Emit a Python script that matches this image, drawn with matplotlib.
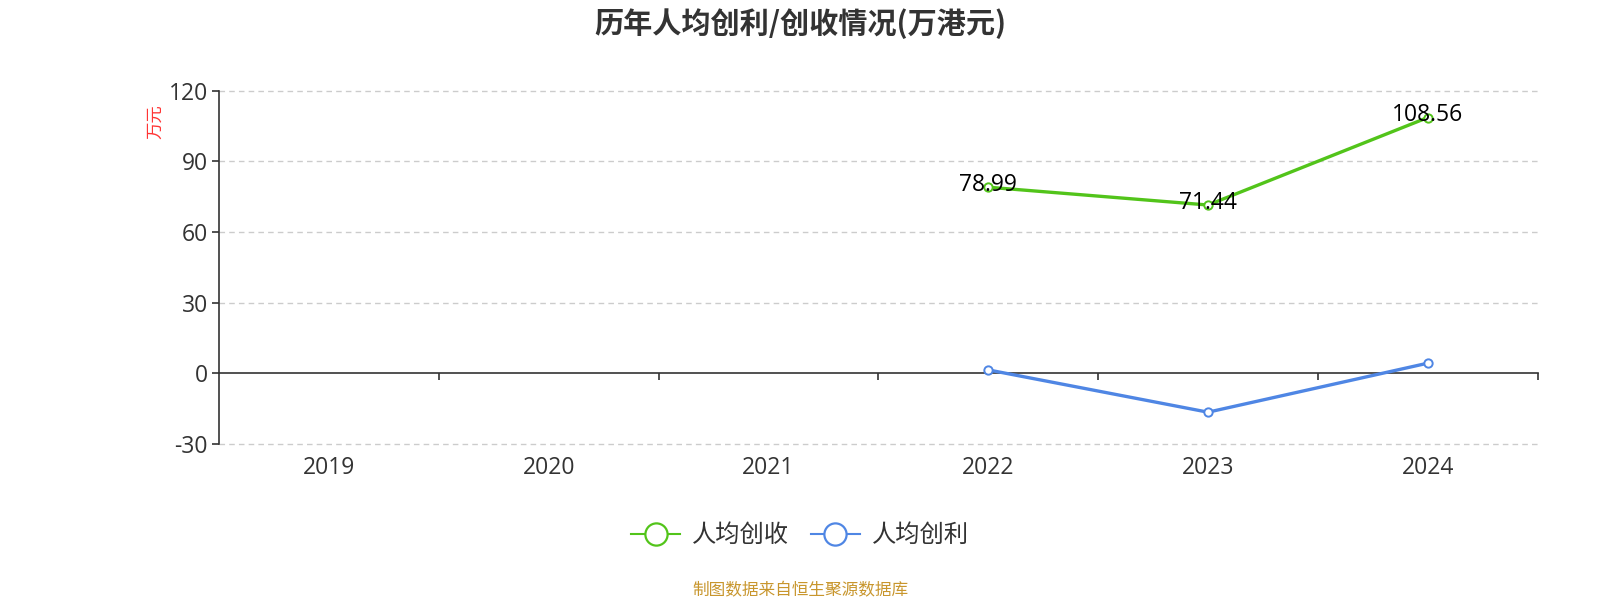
import matplotlib
matplotlib.use("Agg")
import matplotlib.pyplot as plt
import matplotlib.transforms as mtransforms
from matplotlib.lines import Line2D

plt.rcParams['font.family'] = ['Noto Sans CJK SC', 'DejaVu Sans']
num_font = ['Open Sans', 'Noto Sans CJK SC']

years = ['2019', '2020', '2021', '2022', '2023', '2024']
revenue_years = [3, 4, 5]          # index into years
revenue = [78.99, 71.44, 108.56]   # 人均创收
profit = [1.45, -16.5, 4.3]        # 人均创利
yticks = [-30, 0, 30, 60, 90, 120]

green = '#52c41a'
blue = '#4f86e4'

fig = plt.figure(figsize=(16, 6), dpi=100)
ax = fig.add_axes([0.137, 0.26, 0.824, 0.589])

xs = [i + 0.5 for i in revenue_years]
ax.plot(xs, revenue, color=green, lw=2.4, marker='o', ms=6,
        mfc='white', mec=green, mew=1.4, zorder=3)
ax.plot(xs, profit, color=blue, lw=2.4, marker='o', ms=6,
        mfc='white', mec=blue, mew=1.4, zorder=3)

for x, v in zip(xs, revenue):
    ax.annotate(f'{v:.2f}', (x, v), xytext=(0, 1.5), textcoords='offset points',
                ha='center', va='center', fontsize=16.5, color='black',
                family=num_font, zorder=4)

ax.set_xlim(0, len(years))
ax.set_ylim(-30, 120)
ax.set_yticks(yticks)
ax.set_yticklabels([str(t) for t in yticks], fontsize=16.5, color='#333333',
                   family=num_font)
for t in yticks:
    if t != 0:
        ax.axhline(t, color='#cccccc', lw=1, ls=(0, (4, 3)), zorder=1,
                   clip_on=False)

ax.spines['top'].set_visible(False)
ax.spines['right'].set_visible(False)
ax.spines['bottom'].set_position(('data', 0))
ax.spines['bottom'].set_color('#333333')
ax.spines['bottom'].set_linewidth(1.2)
ax.spines['left'].set_color('#333333')
ax.spines['left'].set_linewidth(1.2)
ax.tick_params(axis='y', length=5, width=1.2, color='#333333', pad=3)
ax.set_xticks(range(1, len(years) + 1))
ax.set_xticklabels([])
ax.tick_params(axis='x', length=5, width=1.2, color='#333333', direction='out')

trans = mtransforms.blended_transform_factory(ax.transData, ax.transAxes)
for i, y in enumerate(years):
    ax.text(i + 0.5, -0.035, y, transform=trans, ha='center', va='top',
            fontsize=16.5, color='#333333', family=num_font)

fig.text(0.097, 0.797, '万元', rotation=90, color='#ff3333', fontsize=12.5,
         ha='center', va='center')

fig.text(0.5, 0.96, '历年人均创利/创收情况(万港元)', ha='center', va='center',
         fontsize=21, fontweight='bold', color='#333333')

handles = [Line2D([], [], color=green, lw=1.5, marker='o', ms=16,
                  mfc='white', mec=green, mew=1.6),
           Line2D([], [], color=blue, lw=1.5, marker='o', ms=16,
                  mfc='white', mec=blue, mew=1.6)]
fig.legend(handles, ['人均创收', '人均创利'], loc='center',
           bbox_to_anchor=(0.5, 0.108), ncol=2, frameon=False,
           fontsize=17.5, labelcolor='#333333', handlelength=2.0,
           columnspacing=0.9, handletextpad=0.5)

fig.text(0.5, 0.016, '制图数据来自恒生聚源数据库', ha='center', va='center',
         fontsize=12, color='#c8962d')

fig.savefig('out.png', dpi=100)
